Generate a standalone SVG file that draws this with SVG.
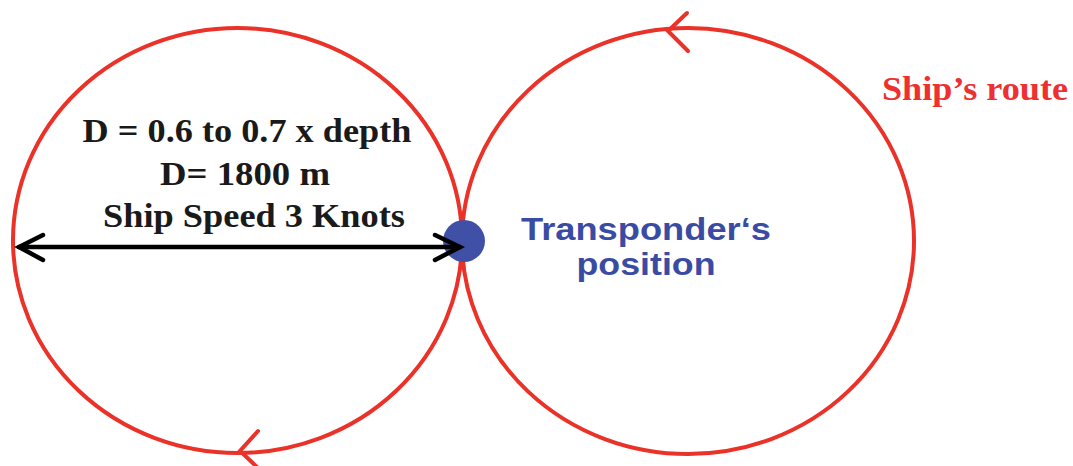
<svg xmlns="http://www.w3.org/2000/svg" width="1073" height="466" viewBox="0 0 1073 466">
<style>
.route{fill:none;stroke:#ea3228;stroke-width:4}
.chev{fill:none;stroke:#ea3228;stroke-width:4;stroke-linecap:round;stroke-linejoin:miter}
.dim{fill:none;stroke:#000;stroke-width:4.5;stroke-linecap:round;stroke-linejoin:miter}
.lbl{font-weight:bold;font-size:34px;fill:#1a1a1a;text-anchor:middle}
.tr{font-family:"Liberation Sans",Arial,sans-serif;font-weight:bold;font-size:32px;fill:#3a4ba3;text-anchor:middle}
.sr{font-weight:bold;font-size:33px;fill:#ee3030}
</style>
<rect width="1073" height="466" fill="#fff"/>
<g id="left-circle">
<ellipse class="route" cx="237.5" cy="240.5" rx="224.5" ry="212.5"/>
<polyline class="chev" points="258,431 240,451 258,468"/>
</g>
<g id="right-circle">
<ellipse class="route" cx="688" cy="241" rx="226" ry="213"/>
<polyline class="chev" points="687,13 668,31 688,51"/>
</g>
<g id="transponder">
<circle cx="464" cy="241" r="21" fill="#3f50a6"/>
<text class="tr" x="646" y="240" textLength="250" lengthAdjust="spacingAndGlyphs">Transponder‘s</text>
<text class="tr" x="646" y="275" textLength="139" lengthAdjust="spacingAndGlyphs">position</text>
</g>
<g id="connectors">
<line class="dim" x1="19" y1="247" x2="460" y2="247"/>
<polyline class="dim" points="43,235 19,247 43,260"/>
<polyline class="dim" points="435,235 460,247 435,260"/>
</g>
<g id="labels" font-family="Liberation Serif, DejaVu Serif, serif">
<text class="lbl" x="247" y="142" textLength="329" lengthAdjust="spacingAndGlyphs">D = 0.6 to 0.7 x depth</text>
<text class="lbl" x="245" y="185" textLength="170" lengthAdjust="spacingAndGlyphs">D= 1800 m</text>
<text class="lbl" x="254" y="227" textLength="302" lengthAdjust="spacingAndGlyphs">Ship Speed 3 Knots</text>
</g>
<g id="ships-route" font-family="Liberation Serif, DejaVu Serif, serif">
<text class="sr" x="882" y="100" textLength="186" lengthAdjust="spacingAndGlyphs">Ship’s route</text>
</g>
</svg>
